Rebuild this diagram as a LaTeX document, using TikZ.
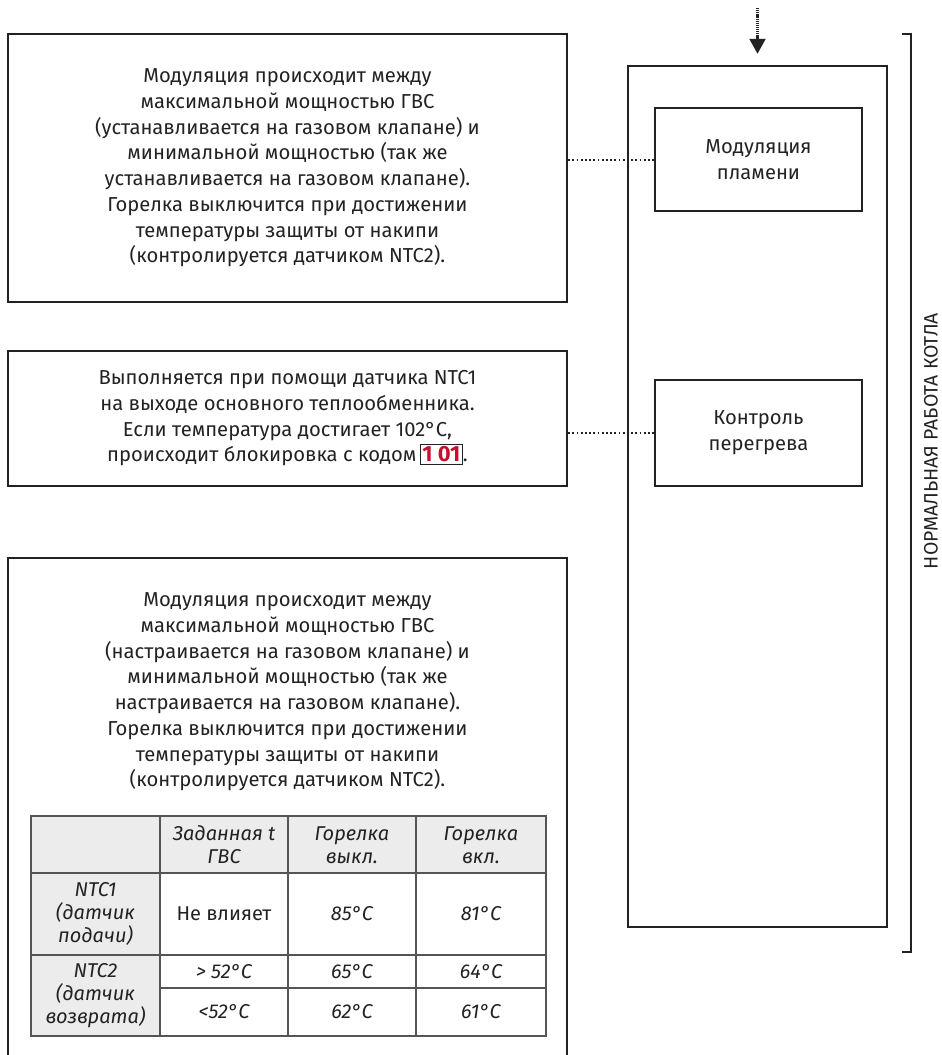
\documentclass[tikz,border=0pt]{standalone}
\usepackage{fontspec}
\setmainfont{Fira Sans}
\usetikzlibrary{arrows.meta,calc}
\definecolor{ink}{HTML}{222222}
\definecolor{codered}{HTML}{C8102E}
\definecolor{cellgray}{HTML}{ECECEC}
\definecolor{gridgray}{HTML}{555555}
\begin{document}
\begin{tikzpicture}[x=1pt,y=-1pt,
  frame/.style={draw=ink,line width=2.5pt},
  bodytext/.style={align=center,font=\fontsize{20.2}{25.7}\selectfont,text=ink},
  boxnode/.style={frame,inner sep=0pt,bodytext},
  dotline/.style={ink,line width=2pt,dash pattern=on 1.8pt off 2.4pt},
  cell/.style={align=center,inner sep=0pt,font=\fontsize{20}{23}\selectfont,text=ink},
  icell/.style={cell,font=\fontsize{20}{23}\selectfont\itshape},
  grid/.style={draw=gridgray,line width=1.2pt}
]
\useasboundingbox (0,0) rectangle (942,1055);

% left boxes
\node[boxnode,minimum width=559pt,minimum height=268pt] (b1) at (287.5,168) {
Модуляция происходит между\\
максимальной мощностью ГВС\\
(устанавливается на газовом клапане) и\\
минимальной мощностью (так же\\
устанавливается на газовом клапане).\\
Горелка выключится при достижении\\
температуры защиты от накипи\\
(контролируется датчиком NTC2).};

\node[boxnode,minimum width=559pt,minimum height=135pt] (b2) at (287.5,418.5) {
Выполняется при помощи датчика NTC1\\
на выходе основного теплообменника.\\
Если температура достигает 102°С,\\
происходит блокировка с кодом\,{\setlength\fboxsep{1.5pt}\setlength\fboxrule{1pt}\fbox{\textcolor{codered}{\fontsize{22}{22}\selectfont\bfseries 1 01}}}.};

% third box, open at the bottom
\draw[frame] (8,1056) -- (8,558) -- (567,558) -- (567,1056);
\node[bodytext] (b3) at (287.5,692) {
Модуляция происходит между\\
максимальной мощностью ГВС\\
(настраивается на газовом клапане) и\\
минимальной мощностью (так же\\
настраивается на газовом клапане).\\
Горелка выключится при достижении\\
температуры защиты от накипи\\
(контролируется датчиком NTC2).};

% table
\fill[cellgray] (31,816) rectangle (546,873);
\fill[cellgray] (31,873) rectangle (160,1036);
\draw[grid] (31,816) rectangle (546,1036);
\draw[grid] (31,873) -- (546,873);
\draw[grid] (31,955) -- (546,955);
\draw[grid] (160,988) -- (546,988);
\foreach \x in {160,288,416} \draw[grid] (\x,816) -- (\x,1036);

\node[icell] (h1) at (224,845) {Заданная t\\ГВС};
\node[icell] (h2) at (352,845) {Горелка\\выкл.};
\node[icell] (h3) at (481,845) {Горелка\\вкл.};
\node[icell] (r1) at (95.5,914) {NTC1\\(датчик\\подачи)};
\node[cell] (c11) at (224,914) {Не влияет};
\node[icell] (c12) at (352,914) {85°C};
\node[icell] (c13) at (481,914) {81°C};
\node[icell] (r2) at (95.5,995.5) {NTC2\\(датчик\\возврата)};
\node[icell] (c21) at (224,971.5) {> 52°C};
\node[icell] (c22) at (352,971.5) {65°C};
\node[icell] (c23) at (481,971.5) {64°C};
\node[icell] (c31) at (224,1012) {<52°C};
\node[icell] (c32) at (352,1012) {62°C};
\node[icell] (c33) at (481,1012) {61°C};

% right side
\node[frame,minimum width=259pt,minimum height=861pt,inner sep=0pt] (big) at (757.5,496.5) {};
\node[boxnode,minimum width=207pt,minimum height=103pt] (m1) at (758.5,159.5) {Модуляция\\пламени};
\node[boxnode,minimum width=207pt,minimum height=106pt] (m2) at (758.5,433) {Контроль\\перегрева};

\draw[dotline] (m1.west -| b1.east) -- (m1.west);
\draw[dotline] (m2.west -| b2.east) -- (m2.west);

\coordinate (src) at (757.5,8);
\draw[ink,line width=2.4pt,dash pattern=on 1.2pt off 0.9pt,-{Triangle[width=16pt,length=15pt]}] (src) -- ([yshift=11pt]big.north);

% bracket
\draw[ink,line width=2.5pt] (902,34) -- (911,34) -- (911,952) -- (902,952);
\node[rotate=90,font=\fontsize{19.4}{22}\selectfont,text=ink] (lbl) at (931,441) {НОРМАЛЬНАЯ РАБОТА КОТЛА};
\end{tikzpicture}
\end{document}
